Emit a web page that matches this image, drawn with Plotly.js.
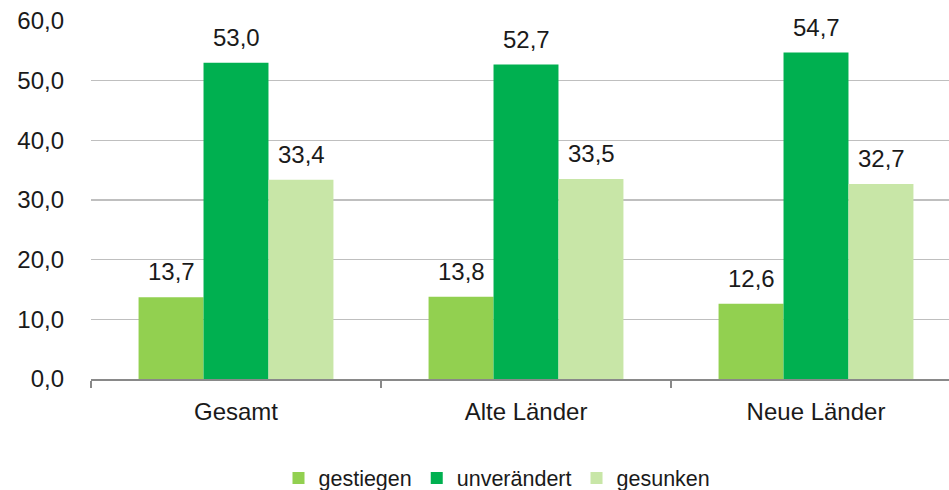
<!DOCTYPE html>
<html>
<head>
<meta charset="utf-8">
<script src="https://cdn.plot.ly/plotly-3.0.1.min.js"></script>
<style>html,body{margin:0;padding:0;background:#fff;}#chart{width:949px;height:490px;}</style>
</head>
<body>
<div id="chart"></div>
<script>
const categories = ["Gesamt", "Alte Länder", "Neue Länder"];
const seriesNames = ["gestiegen", "unverändert", "gesunken"];
const gestiegen = [13.7, 13.8, 12.6];
const unveraendert = [53.0, 52.7, 54.7];
const gesunken = [33.4, 33.5, 32.7];
const seriesValues = [gestiegen, unveraendert, gesunken];
const colors = ["#92D050", "#00B050", "#C8E6A7"];
const yTicks = [0, 10, 20, 30, 40, 50, 60];

const FONT = "Liberation Sans, Arial, sans-serif";
const fmt = v => v.toFixed(1).replace(".", ",");

const traces = seriesValues.map((vals, i) => ({
  type: "bar",
  name: seriesNames[i],
  x: categories,
  y: vals,
  marker: {color: colors[i], line: {width: 0}},
  hoverinfo: "skip"
}));

const barPx = 65;
const annotations = [];
seriesValues.forEach((vals, i) => {
  vals.forEach((v, j) => {
    annotations.push({
      x: categories[j], y: v, xref: "x", yref: "y",
      text: fmt(v), showarrow: false,
      xanchor: "center", yanchor: "bottom",
      xshift: (i - 1) * barPx, yshift: 10,
      font: {family: FONT, size: 24, color: "#1a1a1a"}
    });
  });
});

const layout = {
  width: 949, height: 490,
  margin: {l: 91, r: 0, t: 21, b: 111},
  paper_bgcolor: "#fff", plot_bgcolor: "#fff",
  separators: ",.",
  barmode: "group",
  bargap: 0.328,
  bargroupgap: 0,
  showlegend: true,
  legend: {
    orientation: "h", xref: "container", x: 497 / 949, xanchor: "center",
    yref: "container", y: 12 / 490, yanchor: "middle",
    font: {family: FONT, size: 21.5, color: "#1a1a1a"},
    traceorder: "normal"
  },
  xaxis: {
    type: "category",
    range: [-0.5, -0.5 + 858 / 290],
    tickson: "boundaries",
    ticks: "outside", ticklen: 7, tickwidth: 1.5, tickcolor: "#898989",
    showline: true, linecolor: "#898989", linewidth: 2,
    showgrid: false, zeroline: false,
    ticklabelstandoff: 10,
    automargin: false,
    tickfont: {family: FONT, size: 24, color: "#1a1a1a"},
    fixedrange: true
  },
  yaxis: {
    range: [0, 60],
    tickvals: yTicks,
    tickformat: ".1f",
    ticks: "", showline: false,
    showgrid: true, gridcolor: "#BFBFBF", gridwidth: 1.5,
    zeroline: false,
    ticklabelstandoff: 26,
    automargin: false,
    tickfont: {family: FONT, size: 24, color: "#1a1a1a"},
    fixedrange: true
  },
  annotations: annotations
};

Plotly.newPlot("chart", traces, layout, {displayModeBar: false, staticPlot: true});
</script>
</body>
</html>
